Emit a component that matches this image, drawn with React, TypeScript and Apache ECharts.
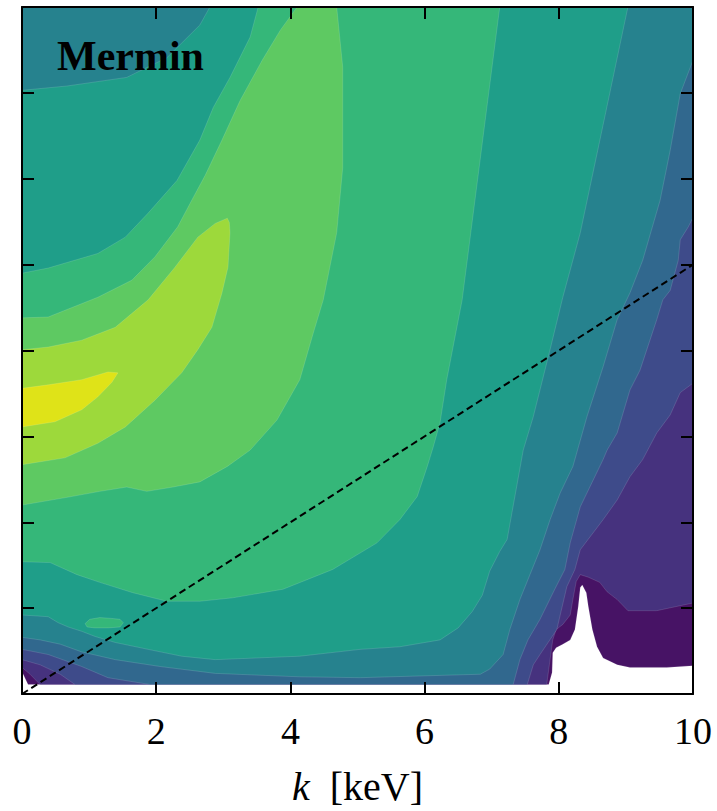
import React, { useEffect, useRef } from "react";
import * as echarts from "echarts";

// Axis extents / ticks
const xRange = [0, 10];
const xTickStep = 2;
const yRange = [0, 8];
const yTickStep = 1;

// Dashed reference line (k, y)
const diagonal: [number, number][] = [
  [0, 0],
  [10, 5],
];

// Filled-contour super-level regions (data units)
const region1: [number, number][] = [[0,8],[10,8],[10,0.33],[9.61,0.31],[9.06,0.31],[8.87,0.34],[8.66,0.42],[8.57,0.55],[8.5,0.75],[8.44,1.02],[8.41,1.18],[8.35,1.27],[8.32,1.24],[8.29,1.02],[8.24,0.75],[8.17,0.63],[8.06,0.58],[7.96,0.54],[7.91,0.48],[7.9,0.25],[7.85,0.11],[0.09,0.11],[0,0.26]];
const region2: [number, number][] = [[0,8],[10,8],[10,1.06],[9.46,0.97],[9.03,0.97],[8.87,1.1],[8.72,1.19],[8.61,1.3],[8.44,1.36],[8.32,1.39],[8.26,1.31],[8.21,1.1],[8.17,0.92],[8.06,0.81],[7.96,0.75],[7.91,0.63],[7.87,0.4],[7.82,0.11],[0.27,0.11],[0.12,0.23],[0,0.31]];
const region3: [number, number][] = [[0,8],[10,8],[10,3.62],[9.81,3.51],[9.66,3.25],[9.46,3.04],[9.25,2.73],[9.06,2.53],[8.87,2.26],[8.66,2.03],[8.32,1.68],[8.24,1.45],[8.12,1.25],[7.97,0.75],[7.72,0.46],[7.62,0.34],[7.53,0.11],[0.79,0.11],[0.57,0.23],[0.27,0.34],[0,0.4]];
const region4: [number, number][] = [[0,8],[10,8],[10,5.55],[9.93,5.44],[9.81,5.29],[9.78,5.05],[9.66,4.7],[9.55,4.59],[9.46,4.36],[9.21,3.77],[9.06,3.54],[8.87,3.04],[8.72,2.84],[8.66,2.73],[8.32,2.18],[8.17,1.76],[8.09,1.45],[7.94,1.22],[7.72,0.87],[7.54,0.63],[7.42,0.4],[7.32,0.11],[1.91,0.11],[1.28,0.19],[0.89,0.32],[0.39,0.46],[0,0.52]];
const region5: [number, number][] = [[0,8],[10,8],[10,7.38],[9.81,6.99],[9.66,6.33],[9.51,5.75],[9.25,5.05],[9.06,4.67],[8.87,4.36],[8.66,3.81],[8.42,3.23],[8.21,2.65],[8.02,2.34],[7.87,2.03],[7.72,1.68],[7.57,1.39],[7.42,1.1],[7.27,0.75],[7.17,0.46],[6.97,0.29],[6.83,0.23],[5.04,0.19],[4.14,0.2],[2.88,0.24],[2.06,0.32],[1.39,0.4],[0.89,0.49],[0.57,0.58],[0.27,0.63],[0,0.66]];
const region6: [number, number][] = [[0,7.03],[0.67,7.08],[1.56,7.18],[2.16,7.41],[2.65,7.79],[2.8,8],[9.03,8],[8.58,6.33],[8.32,5.37],[8.06,4.62],[7.87,4.01],[7.62,3.23],[7.47,2.84],[7.23,1.8],[7.12,1.66],[6.97,1.43],[6.86,1.15],[6.71,0.96],[6.5,0.77],[6.23,0.63],[5.63,0.55],[5.04,0.52],[4.14,0.44],[2.88,0.4],[2.38,0.44],[1.88,0.52],[1.39,0.6],[1.09,0.67],[0.89,0.73],[0.69,0.78],[0.54,0.83],[0.39,0.9],[0,0.92]];
const region7: [number, number][] = [[0,4.9],[0.39,4.96],[1.13,5.13],[1.54,5.32],[1.88,5.6],[2.31,5.98],[2.65,6.45],[2.85,6.83],[3.1,7.18],[3.4,7.65],[3.52,8],[7.12,8],[6.56,4.59],[6.33,3.66],[6.23,3.16],[6.13,2.88],[6.04,2.65],[5.89,2.3],[5.63,2.03],[5.29,1.76],[4.63,1.45],[3.89,1.22],[3.14,1.12],[2.65,1.08],[2.16,1.08],[1.65,1.18],[1.16,1.3],[0.82,1.39],[0.42,1.53],[0,1.54]];
const region7Island: [number, number][] = [[0.94,0.82],[1.01,0.87],[1.16,0.89],[1.34,0.88],[1.46,0.87],[1.51,0.83],[1.46,0.78],[1.28,0.77],[1.09,0.77],[0.97,0.78]];
const region8: [number, number][] = [[0,4.38],[0.39,4.39],[1.13,4.62],[1.64,4.82],[1.98,5.09],[2.32,5.44],[2.53,5.75],[2.73,6.04],[2.98,6.45],[3.25,6.91],[3.58,7.38],[3.85,7.73],[4.1,8],[4.69,8],[4.78,7.3],[4.78,6.13],[4.69,5.37],[4.49,4.59],[4.34,4.2],[4.14,3.66],[3.8,3.19],[3.4,2.84],[3.06,2.65],[2.65,2.47],[2.25,2.41],[1.86,2.36],[1.56,2.41],[1.16,2.36],[0.67,2.29],[0,2.2]];
const region9: [number, number][] = [[0,4.01],[0.39,4.04],[0.89,4.12],[1.39,4.27],[1.88,4.59],[2.28,4.97],[2.62,5.32],[2.88,5.48],[3.06,5.54],[3.09,5.49],[3.1,5.37],[3.07,4.97],[2.98,4.67],[2.83,4.27],[2.62,4.01],[2.38,3.74],[1.98,3.42],[1.54,3.11],[1.13,2.92],[0.64,2.75],[0,2.67]];
const region10: [number, number][] = [[0,3.56],[0.39,3.6],[0.89,3.66],[1.28,3.75],[1.43,3.74],[1.34,3.63],[1.13,3.46],[0.89,3.31],[0.49,3.17],[0,3.11]];

// Viridis band colours, low -> high
const levelColors = ["#471365", "#46327e", "#3e4b8a", "#31688e", "#26828e", "#1f9e89", "#35b779", "#35b779", "#5ec962", "#9dd93b", "#dfe318"];
const regions = [region1, region2, region3, region4, region5, region6, region7, region7Island, region8, region9, region10];

const FONT = "Liberation Serif";

export default function App() {
  const ref = useRef<HTMLDivElement>(null);
  useEffect(() => {
    document.body.style.margin = "0";
    const chart = echarts.init(ref.current!, null, { renderer: "svg" });
    const axisLine = { show: true, onZero: false, lineStyle: { color: "#000", width: 2 } };
    const axisTick = { show: true, inside: true, length: 12, lineStyle: { color: "#000", width: 2 } };
    const xBase = { type: "value", min: xRange[0], max: xRange[1], interval: xTickStep, axisLine, axisTick, splitLine: { show: false }, z: 10 };
    const yBase = { type: "value", min: yRange[0], max: yRange[1], interval: yTickStep, axisLine, axisTick, splitLine: { show: false }, axisLabel: { show: false }, z: 10 };
    chart.setOption({
      animation: false,
      backgroundColor: "#fff",
      grid: { left: 22, top: 7, width: 671, height: 687, containLabel: false },
      xAxis: [
        {
          ...xBase,
          position: "bottom",
          axisLabel: { show: true, fontSize: 38, fontFamily: FONT, color: "#000", margin: 18 },
          name: "{i|k}[keV]",
          nameLocation: "middle",
          nameGap: 72,
          nameTextStyle: {
            fontSize: 40,
            fontFamily: FONT,
            color: "#000",
            rich: { i: { fontSize: 40, fontFamily: FONT, fontStyle: "italic", color: "#000", padding: [0, 20, 0, 0] } },
          },
        },
        { ...xBase, position: "top", axisLabel: { show: false } },
      ],
      yAxis: [
        { ...yBase, position: "left" },
        { ...yBase, position: "right" },
      ],
      graphic: [
        {
          type: "text",
          left: 57,
          top: 35,
          z: 20,
          style: { text: "Mermin", fontSize: 42, fontWeight: "bold", fontFamily: FONT, fill: "#000" },
        },
      ],
      series: [
        {
          type: "custom",
          coordinateSystem: "cartesian2d",
          xAxisIndex: 0,
          yAxisIndex: 0,
          silent: true,
          clip: true,
          z: 1,
          data: regions.map((r) => r[0]),
          renderItem: (params: any, api: any) => {
            const poly = regions[params.dataIndex];
            return {
              type: "polygon",
              shape: { points: poly.map((p) => api.coord(p)) },
              style: { fill: levelColors[params.dataIndex], stroke: "rgba(255,255,255,0.22)", lineWidth: 0.6 },
            };
          },
        },
        {
          type: "line",
          xAxisIndex: 0,
          yAxisIndex: 0,
          data: diagonal,
          symbol: "none",
          silent: true,
          z: 5,
          lineStyle: { color: "#000", width: 2, type: [7, 4] },
        },
      ],
    });
    return () => chart.dispose();
  }, []);
  return <div ref={ref} style={{ width: 717, height: 811 }} />;
}
